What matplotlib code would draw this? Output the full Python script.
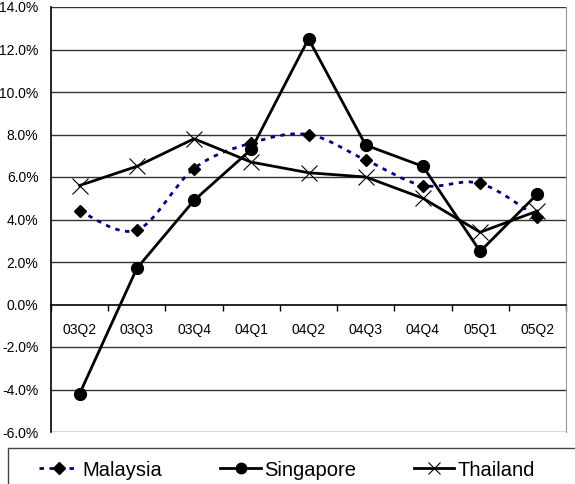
import numpy as np
import matplotlib.pyplot as plt
from matplotlib.path import Path
from matplotlib.patches import PathPatch, Rectangle
from matplotlib.lines import Line2D

plt.rcParams['font.family'] = ['Liberation Sans', 'DejaVu Sans']

quarters = ["03Q2", "03Q3", "03Q4", "04Q1", "04Q2", "04Q3", "04Q4", "05Q1", "05Q2"]
malaysia = [4.4, 3.5, 6.4, 7.6, 8.0, 6.8, 5.6, 5.7, 4.1]
singapore = [-4.2, 1.7, 4.9, 7.3, 12.5, 7.5, 6.5, 2.5, 5.2]
thailand = [5.6, 6.5, 7.8, 6.7, 6.2, 6.0, 5.0, 3.4, 4.4]
y_ticks = [-6, -4, -2, 0, 2, 4, 6, 8, 10, 12, 14]


def smooth_path(xs, ys):
    # Catmull-Rom style smoothing, drawn as cubic Bezier segments
    pts = np.column_stack([xs, ys]).astype(float)
    ext = np.vstack([pts[0], pts, pts[-1]])
    verts = [tuple(pts[0])]
    codes = [Path.MOVETO]
    for i in range(1, len(ext) - 2):
        p0, p1, p2, p3 = ext[i - 1], ext[i], ext[i + 1], ext[i + 2]
        c1 = p1 + (p2 - p0) / 6.0
        c2 = p2 - (p3 - p1) / 6.0
        verts += [tuple(c1), tuple(c2), tuple(p2)]
        codes += [Path.CURVE4] * 3
    return Path(verts, codes)


fig = plt.figure(figsize=(5.75, 4.84), dpi=100)
ax = fig.add_axes([51 / 575, 52 / 484, 515 / 575, 425 / 484])

x = np.arange(len(quarters))
dash = (0, (1.6, 2.0))

ax.add_patch(PathPatch(smooth_path(x, malaysia), fill=False, edgecolor="#000080",
                       lw=2, linestyle=dash, zorder=3))
ax.plot(x, thailand, color="black", lw=2, marker="x", ms=11, mew=0.8, zorder=4)
ax.plot(x, singapore, color="black", lw=2, marker="o", ms=8.5, zorder=4)
ax.plot(x, malaysia, linestyle="none", marker="D", ms=6.5, color="black", zorder=5)

ax.set_xlim(-0.5, len(quarters) - 0.5)
ax.set_ylim(-6, 14)
ax.set_yticks(y_ticks)
ax.set_yticklabels([f"{v:.1f}%" for v in y_ticks], fontsize=10)
ax.tick_params(axis="y", length=0, pad=9)

ax.set_xticks(x)
ax.set_xticklabels(quarters, fontsize=8.5)
ax.set_xticks(np.arange(len(quarters) + 1) - 0.5, minor=True)
ax.tick_params(axis="x", which="major", length=0, pad=13)
ax.tick_params(axis="x", which="minor", length=4, direction="out", width=1)

for v in y_ticks:
    if v != 0:
        ax.axhline(v, color="#333333", lw=1, zorder=1)

ax.spines["bottom"].set_position(("data", 0))
ax.spines["bottom"].set_linewidth(1.2)
ax.spines["left"].set_linewidth(1.2)
ax.spines["top"].set_visible(False)
ax.spines["right"].set_color("#999999")

# legend box running off the right edge
fig.patches.append(Rectangle((8 / 575, -0.1), 1.0, 0.1 + 36 / 484, transform=fig.transFigure,
                             fill=False, edgecolor="#444444", lw=1))
handles = [
    Line2D([], [], color="#000080", lw=2, linestyle=dash, marker="D", ms=6,
           markerfacecolor="black", markeredgecolor="black"),
    Line2D([], [], color="black", lw=2, marker="o", ms=7.5),
    Line2D([], [], color="black", lw=2, marker="x", ms=9, mew=0.8),
]
fig.legend(handles, ["Malaysia", "Singapore", "Thailand"], ncol=3, frameon=False,
           loc="center left", bbox_to_anchor=(39 / 575, 14 / 484), fontsize=14.5,
           borderpad=0, borderaxespad=0, handlelength=2.0, handletextpad=0.15,
           columnspacing=2.9)

fig.savefig("out.png", dpi=100)
